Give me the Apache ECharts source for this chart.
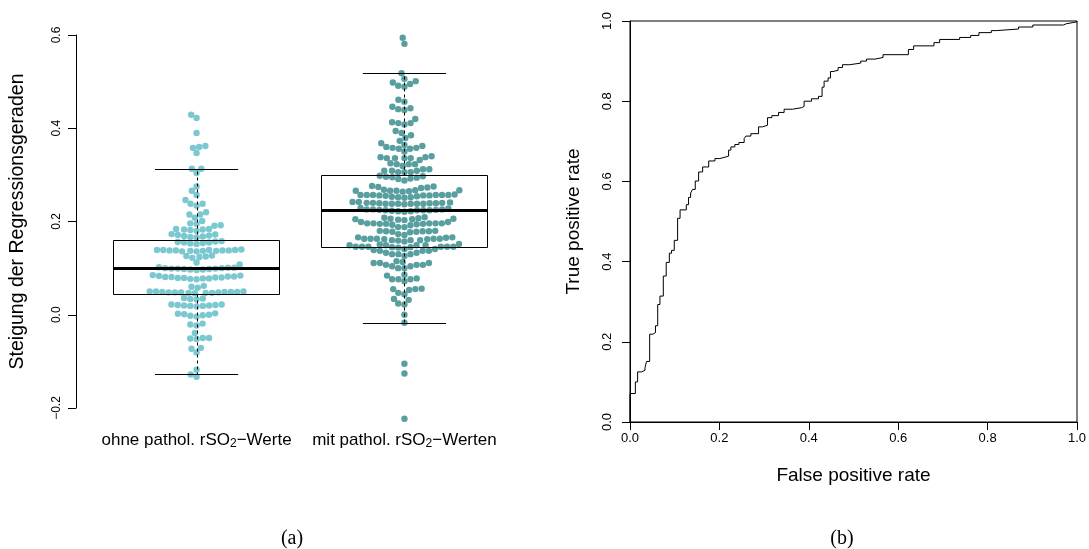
<!DOCTYPE html>
<html><head><meta charset="utf-8">
<script src="https://cdn.jsdelivr.net/npm/echarts@6/dist/echarts.min.js"></script>
<style>html,body{margin:0;padding:0;background:#fff}#c{width:1089px;height:549px}</style>
</head><body><div id="c"></div>
<script>
// ---------- DATA ----------
const groupLabels = ['ohne pathol. rSO{sub|2}\u2212Werte', 'mit pathol. rSO{sub|2}\u2212Werten'];
const yTicksA = [-0.2, 0.0, 0.2, 0.4, 0.6];

const slopesOhne = [
  0.429, 0.422, 0.390, 0.362, 0.358, 0.360, 0.347, 0.313, 0.313, 0.304, 0.275, 0.266, 0.257, 0.246,
  0.238, 0.234, 0.238, 0.220, 0.215, 0.215, 0.208,
  0.201, 0.196, 0.192, 0.191, 0.195,
  0.184, 0.183, 0.180, 0.183, 0.182, 0.184,
  0.173, 0.170, 0.168, 0.171, 0.167, 0.172, 0.169, 0.166,
  0.157, 0.155, 0.158, 0.153, 0.156, 0.152, 0.154, 0.155,
  0.139, 0.138, 0.137, 0.139, 0.136, 0.138, 0.140, 0.137, 0.139, 0.138, 0.136, 0.137, 0.139, 0.138,
  0.127, 0.124, 0.126, 0.122, 0.125,
  0.112, 0.108,
  0.102, 0.101, 0.099, 0.098, 0.100, 0.097, 0.099, 0.101, 0.098, 0.096, 0.097, 0.100, 0.099,
  0.085, 0.082, 0.080, 0.078, 0.083, 0.081, 0.079, 0.084, 0.077, 0.082, 0.080, 0.076, 0.079, 0.081, 0.078,
  0.062, 0.060, 0.058,
  0.050, 0.049, 0.048, 0.049, 0.047, 0.050, 0.048, 0.046, 0.049, 0.047, 0.048, 0.050, 0.049, 0.048, 0.047,
  0.036, 0.034, 0.035, 0.033,
  0.022, 0.021, 0.019, 0.020, 0.018, 0.021, 0.020, 0.019, 0.022,
  0.003, 0.001, -0.002, -0.004, 0.000, 0.002, -0.001,
  -0.019, -0.021, -0.023,
  -0.039,
  -0.050, -0.052, -0.051, -0.050,
  -0.071, -0.073,
  -0.081,
  -0.118, -0.128, -0.133
];

const slopesMit = [
  0.594, 0.581, 0.518,
  0.498, 0.495, 0.501, 0.506, 0.489, 0.491,
  0.457, 0.461, 0.446, 0.443, 0.439, 0.441,
  0.411, 0.411, 0.408, 0.413, 0.420,
  0.394, 0.390, 0.379, 0.385, 0.373, 0.368, 0.362,
  0.360, 0.358, 0.356, 0.356, 0.358, 0.364,
  0.350,
  0.340, 0.336, 0.338, 0.336, 0.332, 0.336, 0.336, 0.338,
  0.325, 0.323, 0.319, 0.323, 0.323,
  0.312, 0.309, 0.306, 0.306, 0.309, 0.306, 0.309, 0.312,
  0.296, 0.294, 0.291, 0.288, 0.292, 0.295, 0.297, 0.298,
  0.276, 0.274, 0.272, 0.275, 0.273,
  0.267, 0.266, 0.265, 0.264, 0.268, 0.266, 0.267, 0.266,
  0.257, 0.257, 0.256, 0.254, 0.251, 0.252, 0.252, 0.255, 0.258, 0.257, 0.256, 0.253, 0.257, 0.256, 0.257, 0.257,
  0.241, 0.240, 0.239, 0.238, 0.238, 0.237, 0.238, 0.240, 0.242, 0.239, 0.238, 0.238, 0.238, 0.239, 0.240, 0.242,
  0.228, 0.226, 0.224, 0.225, 0.224, 0.223, 0.222, 0.221, 0.222, 0.224, 0.224, 0.225, 0.226, 0.226, 0.229,
  0.209, 0.208, 0.207, 0.205, 0.206, 0.204, 0.206, 0.205, 0.203,
  0.199, 0.195, 0.188, 0.196, 0.195, 0.195, 0.194, 0.193, 0.196, 0.196, 0.196, 0.188, 0.192, 0.196, 0.199,
  0.180, 0.179, 0.179, 0.178, 0.177, 0.178, 0.179, 0.180,
  0.173, 0.171,
  0.166, 0.165, 0.163, 0.163, 0.162, 0.160, 0.160, 0.159, 0.160, 0.162, 0.157, 0.163, 0.163, 0.163, 0.166,
  0.152, 0.149, 0.146, 0.149, 0.146, 0.146, 0.146, 0.145, 0.149, 0.149, 0.144, 0.146, 0.146, 0.151,
  0.137, 0.130, 0.137, 0.126, 0.133, 0.130, 0.137, 0.130, 0.133, 0.141, 0.141, 0.145, 0.139,
  0.115, 0.111, 0.107, 0.104, 0.100, 0.107, 0.111, 0.111, 0.100, 0.104, 0.107, 0.113,
  0.086, 0.076, 0.076, 0.084, 0.072, 0.076, 0.078,
  0.055, 0.047, 0.056, 0.044, 0.053, 0.055,
  0.034, 0.032, 0.022, 0.024,
  0.000, -0.017, -0.105, -0.126, -0.223
];

// boxplot statistics: [lower whisker, Q1, median, Q3, upper whisker]
const boxLow = [-0.128, -0.017];
const boxQ1 = [0.0435, 0.1457];
const boxMedian = [0.099, 0.2235];
const boxQ3 = [0.161, 0.3006];
const boxHigh = [0.313, 0.518];

// ROC curve step corners
const rocFpr = [0, 0, 0.012, 0.017, 0.026, 0.0335, 0.037, 0.044, 0.051, 0.057, 0.062, 0.067, 0.0745, 0.081, 0.088, 0.093, 0.099, 0.1065, 0.112, 0.126,
  0.131, 0.1356, 0.140, 0.146, 0.1535, 0.1625, 0.176, 0.190, 0.201, 0.2145, 0.2206, 0.2257, 0.2346, 0.2436, 0.2554, 0.2592, 0.2704, 0.2876, 0.2965,
  0.3077, 0.3173, 0.3323, 0.3448, 0.3636, 0.3844, 0.3895, 0.406, 0.4217, 0.4297, 0.4342, 0.4431, 0.4485, 0.4543, 0.4655, 0.4753, 0.4916,
  0.5162, 0.529, 0.548, 0.566, 0.6228, 0.6346, 0.680, 0.6927, 0.7374, 0.762, 0.7806, 0.8083, 0.8194, 0.8693, 0.9012, 0.9698, 0.9757, 0.9906, 1.0];
const rocTpr = [0, 0.071, 0.100, 0.125, 0.129, 0.135, 0.151, 0.219, 0.223, 0.240, 0.293, 0.314, 0.364, 0.398, 0.421, 0.428, 0.453, 0.508, 0.529, 0.542,
  0.560, 0.571, 0.580, 0.601, 0.6235, 0.636, 0.651, 0.657, 0.661, 0.663, 0.678, 0.686, 0.692, 0.697, 0.707, 0.713, 0.719, 0.736, 0.740,
  0.759, 0.764, 0.772, 0.780, 0.784, 0.787, 0.800, 0.806, 0.812, 0.835, 0.850, 0.858, 0.874, 0.877, 0.884, 0.891, 0.895,
  0.900, 0.905, 0.909, 0.916, 0.929, 0.938, 0.946, 0.954, 0.959, 0.964, 0.971, 0.976, 0.980, 0.985, 0.990, 0.993, 0.996, 0.998, 1.0];
const rocTicks = [0, 0.2, 0.4, 0.6, 0.8, 1.0];

// ---------- STYLE ----------
const FONT = '"Liberation Sans", Arial, Helvetica, sans-serif';
const colOhne = '#7bc8d0';
const colMit = '#5a9fa0';
const DOT_R = 3.2;
const SPACING = 6.3;

function fmt(v) { return v.toFixed(1).replace('-', '\u2212'); }

// swarm layout (pixel space), points placed in ascending order of value
function swarmOffsets(pys, d) {
  const idx = pys.map((_, i) => i).sort((a, b) => pys[b] - pys[a]);
  const placed = []; const off = new Array(pys.length);
  for (const i of idx) {
    const y = pys[i];
    const near = placed.filter(p => Math.abs(p.y - y) < d);
    const cands = [0];
    near.forEach(p => { const dx = Math.sqrt(d * d - (p.y - y) * (p.y - y)); cands.push(p.x + dx, p.x - dx); });
    cands.sort((a, b) => Math.abs(a) - Math.abs(b) || a - b);
    let best = 0;
    for (const c of cands) {
      if (near.every(p => (p.x - c) * (p.x - c) + (p.y - y) * (p.y - y) >= d * d - 1e-6)) { best = c; break; }
    }
    placed.push({ x: best, y: y }); off[i] = best;
  }
  return off;
}
const offCache = {};
function dotSeries(g, values, color) {
  return {
    type: 'custom', xAxisIndex: 0, yAxisIndex: 0, z: 2, clip: false,
    data: values.map(v => [g + 1, v]),
    encode: { x: 0, y: 1 },
    renderItem: function (params, api) {
      if (!offCache[g]) {
        const pys = values.map(v => api.coord([g + 1, v])[1]);
        offCache[g] = swarmOffsets(pys, SPACING);
      }
      const p = api.coord([api.value(0), api.value(1)]);
      return { type: 'circle', shape: { cx: p[0] + offCache[g][params.dataIndex], cy: p[1], r: DOT_R }, style: { fill: color } };
    }
  };
}
const boxData = boxLow.map((_, i) => [i + 1, boxLow[i], boxQ1[i], boxMedian[i], boxQ3[i], boxHigh[i]]);
const snap = v => Math.round(v) + 0.5;
const boxSeries = {
  type: 'custom', xAxisIndex: 0, yAxisIndex: 0, z: 3, clip: false,
  data: boxData, encode: { x: 0, y: [1, 2, 3, 4, 5] },
  renderItem: function (params, api) {
    const x = api.value(0), lo = api.value(1), q1 = api.value(2), md = api.value(3), q3 = api.value(4), hi = api.value(5);
    const hw = 0.4, cw = 0.2;
    const L = api.coord([x - hw, q3])[0], R = api.coord([x + hw, q3])[0];
    const cL = api.coord([x - cw, q3])[0], cR = api.coord([x + cw, q3])[0];
    const cx = snap(api.coord([x, q3])[0]);
    const yq3 = snap(api.coord([x, q3])[1]), yq1 = snap(api.coord([x, q1])[1]);
    const ymd = api.coord([x, md])[1];
    const ylo = snap(api.coord([x, lo])[1]), yhi = snap(api.coord([x, hi])[1]);
    const st = { stroke: '#000', lineWidth: 1, fill: null };
    return {
      type: 'group', children: [
        { type: 'line', shape: { x1: cx, y1: yq3, x2: cx, y2: yhi }, style: { stroke: '#000', lineWidth: 1, lineDash: [3, 3] } },
        { type: 'line', shape: { x1: cx, y1: yq1, x2: cx, y2: ylo }, style: { stroke: '#000', lineWidth: 1, lineDash: [3, 3] } },
        { type: 'line', shape: { x1: cL, y1: yhi, x2: cR, y2: yhi }, style: st },
        { type: 'line', shape: { x1: cL, y1: ylo, x2: cR, y2: ylo }, style: st },
        { type: 'rect', shape: { x: snap(L), y: yq3, width: Math.round(R - L), height: yq1 - yq3 }, style: st },
        { type: 'line', shape: { x1: L, y1: ymd, x2: R, y2: ymd }, style: { stroke: '#000', lineWidth: 3 } }
      ]
    };
  }
};

const chart = echarts.init(document.getElementById('c'), null, { renderer: 'canvas' });
chart.setOption({
  backgroundColor: '#fff',
  animation: false,
  textStyle: { fontFamily: FONT },
  title: [
    { text: '(a)', left: 287, top: 524, textAlign: 'center', textStyle: { fontFamily: '"Liberation Serif", "Times New Roman", serif', fontSize: 20, fontWeight: 'normal', color: '#000' } },
    { text: '(b)', left: 837, top: 524, textAlign: 'center', textStyle: { fontFamily: '"Liberation Serif", "Times New Roman", serif', fontSize: 20, fontWeight: 'normal', color: '#000' } }
  ],
  grid: [
    { left: 76, top: 35, width: 449, height: 373, outerBoundsMode: 'none', containLabel: false },
    { left: 630, top: 21, width: 447, height: 401, show: true, borderColor: '#000', borderWidth: 1, backgroundColor: 'transparent', outerBoundsMode: 'none', containLabel: false }
  ],
  xAxis: [
    {
      gridIndex: 0, type: 'value', min: 0.42, max: 2.58,
      axisLine: { show: false }, axisTick: { show: false }, splitLine: { show: false },
      axisLabel: {
        customValues: [1, 2], margin: 23, color: '#000', fontSize: 17, fontFamily: FONT,
        formatter: v => groupLabels[Math.round(v) - 1],
        rich: { sub: { fontSize: 12, fontFamily: FONT, color: '#000', verticalAlign: 'bottom', padding: [7, 0, 0, 0] } }
      }
    },
    {
      gridIndex: 1, type: 'value', min: 0, max: 1, interval: 0.2,
      name: 'False positive rate', nameLocation: 'middle', nameGap: 44,
      nameTextStyle: { color: '#000', fontSize: 19, fontFamily: FONT },
      axisLine: { show: true, lineStyle: { color: '#000', width: 1 } },
      axisTick: { show: true, length: 8, lineStyle: { color: '#000' } },
      splitLine: { show: false },
      axisLabel: { color: '#000', fontSize: 13, margin: 10, formatter: fmt, fontFamily: FONT }
    }
  ],
  yAxis: [
    {
      gridIndex: 0, type: 'value', min: yTicksA[0], max: yTicksA[yTicksA.length - 1], interval: 0.2,
      name: 'Steigung der Regressionsgeraden', nameLocation: 'middle', nameGap: 48,
      nameTextStyle: { color: '#000', fontSize: 19.5, fontFamily: FONT },
      axisLine: { show: true, lineStyle: { color: '#000', width: 1 } },
      axisTick: { show: true, length: 8, lineStyle: { color: '#000' } },
      splitLine: { show: false },
      axisLabel: { rotate: 90, color: '#000', fontSize: 12, margin: 13, formatter: fmt, fontFamily: FONT }
    },
    {
      gridIndex: 1, type: 'value', min: rocTicks[0], max: rocTicks[rocTicks.length - 1], interval: 0.2,
      name: 'True positive rate', nameLocation: 'middle', nameGap: 47,
      nameTextStyle: { color: '#000', fontSize: 19, fontFamily: FONT },
      axisLine: { show: true, lineStyle: { color: '#000', width: 1 } },
      axisTick: { show: true, length: 8, lineStyle: { color: '#000' } },
      splitLine: { show: false },
      axisLabel: { rotate: 90, color: '#000', fontSize: 13, margin: 16, formatter: fmt, fontFamily: FONT }
    }
  ],
  series: [
    dotSeries(0, slopesOhne, colOhne),
    dotSeries(1, slopesMit, colMit),
    boxSeries,
    {
      type: 'line', xAxisIndex: 1, yAxisIndex: 1, step: 'end', showSymbol: false, symbol: 'none',
      data: rocFpr.map((f, i) => [f, rocTpr[i]]),
      lineStyle: { color: '#000', width: 1 }, z: 3
    }
  ]
});
</script>
</body></html>
